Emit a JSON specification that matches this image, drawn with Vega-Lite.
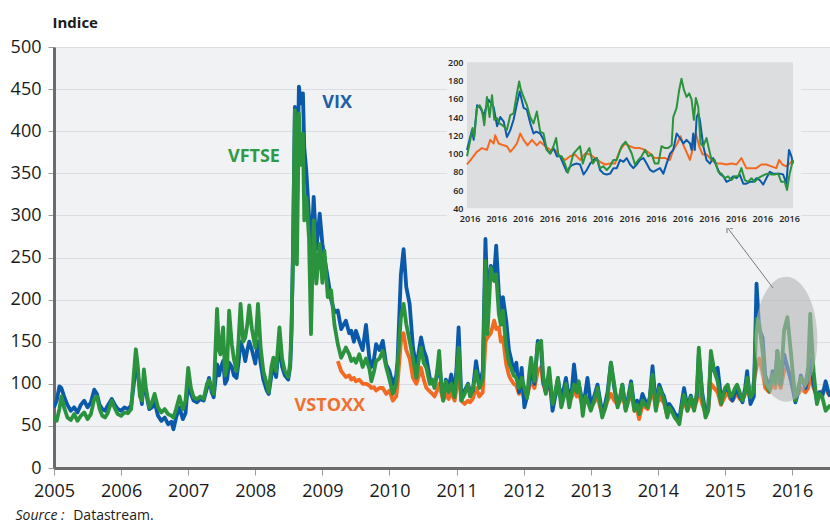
{
  "$schema": "https://vega.github.io/schema/vega-lite/v6.json",
  "width": 776,
  "height": 421,
  "autosize": {"type": "none"},
  "padding": {"left": 54, "top": 47, "right": 0, "bottom": 54},
  "background": "white",
  "view": {"fill": "#f1f2f4", "stroke": null},
  "config": {"font": "Open Sans", "axis": {"labelFont": "Open Sans", "titleFont": "Open Sans"}},
  "datasets": {
    "one": [{}],
    "main": [
      {"x":2005.00,"a":72,"c":62},{"x":2005.04,"a":80,"c":56},{"x":2005.08,"a":97,"c":70},{"x":2005.11,"a":95,"c":85},
      {"x":2005.15,"a":85,"c":72},{"x":2005.20,"a":75,"c":60},{"x":2005.25,"a":68,"c":57},{"x":2005.30,"a":72,"c":64},
      {"x":2005.35,"a":66,"c":56},{"x":2005.40,"a":75,"c":62},{"x":2005.45,"a":80,"c":66},{"x":2005.50,"a":72,"c":58},
      {"x":2005.55,"a":78,"c":64},{"x":2005.60,"a":93,"c":82},{"x":2005.64,"a":88,"c":85},{"x":2005.68,"a":75,"c":70},
      {"x":2005.72,"a":70,"c":62},{"x":2005.76,"a":68,"c":60},{"x":2005.80,"a":74,"c":65},{"x":2005.86,"a":82,"c":80},
      {"x":2005.90,"a":76,"c":72},{"x":2005.95,"a":70,"c":64},{"x":2006.00,"a":68,"c":62},{"x":2006.05,"a":72,"c":66},
      {"x":2006.10,"a":70,"c":65},{"x":2006.15,"a":74,"c":70},{"x":2006.19,"a":100,"c":112},{"x":2006.22,"a":131,"c":141},
      {"x":2006.25,"a":110,"c":120},{"x":2006.28,"a":92,"c":85},{"x":2006.31,"a":76,"c":80},{"x":2006.34,"a":107,"c":117},
      {"x":2006.37,"a":90,"c":95},{"x":2006.42,"a":70,"c":72},{"x":2006.46,"a":72,"c":78},{"x":2006.50,"a":78,"c":88},
      {"x":2006.55,"a":62,"c":72},{"x":2006.60,"a":56,"c":66},{"x":2006.65,"a":60,"c":70},{"x":2006.70,"a":52,"c":64},
      {"x":2006.75,"a":55,"c":62},{"x":2006.78,"a":46,"c":60},{"x":2006.82,"a":60,"c":70},{"x":2006.87,"a":72,"c":85},
      {"x":2006.92,"a":58,"c":70},{"x":2006.96,"a":65,"c":80},{"x":2007.00,"a":104,"c":119},{"x":2007.04,"a":88,"c":95},
      {"x":2007.08,"a":80,"c":84},{"x":2007.13,"a":78,"c":82},{"x":2007.18,"a":82,"c":85},{"x":2007.23,"a":80,"c":82},
      {"x":2007.28,"a":95,"c":100},{"x":2007.31,"a":107,"c":104},{"x":2007.35,"a":90,"c":95},{"x":2007.38,"a":84,"c":88},
      {"x":2007.43,"a":123,"c":189},{"x":2007.46,"a":110,"c":140},{"x":2007.48,"a":118,"c":135},{"x":2007.52,"a":127,"c":167},
      {"x":2007.55,"a":100,"c":110},{"x":2007.58,"a":105,"c":120},{"x":2007.61,"a":125,"c":187},{"x":2007.65,"a":120,"c":147},
      {"x":2007.68,"a":110,"c":130},{"x":2007.72,"a":107,"c":115},{"x":2007.75,"a":125,"c":150},{"x":2007.78,"a":150,"c":195},
      {"x":2007.82,"a":140,"c":150},{"x":2007.85,"a":127,"c":155},{"x":2007.88,"a":140,"c":170},{"x":2007.91,"a":150,"c":193},
      {"x":2007.95,"a":140,"c":165},{"x":2008.00,"a":124,"c":143},{"x":2008.04,"a":150,"c":195},{"x":2008.08,"a":124,"c":143},
      {"x":2008.12,"a":105,"c":115},{"x":2008.17,"a":92,"c":100},{"x":2008.20,"a":88,"c":90},{"x":2008.24,"a":110,"c":120},
      {"x":2008.27,"a":120,"c":131},{"x":2008.31,"a":108,"c":115},{"x":2008.36,"a":150,"c":167},{"x":2008.40,"a":120,"c":130},
      {"x":2008.44,"a":110,"c":115},{"x":2008.49,"a":105,"c":108},{"x":2008.52,"a":120,"c":125},{"x":2008.54,"a":160,"c":170},
      {"x":2008.56,"a":250,"c":242},{"x":2008.59,"a":429,"c":425},{"x":2008.62,"a":300,"c":242},{"x":2008.65,"a":453,"c":421},
      {"x":2008.68,"a":433,"c":360},{"x":2008.71,"a":445,"c":397},{"x":2008.73,"a":380,"c":294},{"x":2008.76,"a":353,"c":322},
      {"x":2008.80,"a":300,"c":274},{"x":2008.83,"a":250,"c":159},{"x":2008.87,"a":322,"c":294},{"x":2008.91,"a":260,"c":219},
      {"x":2008.96,"a":302,"c":266},{"x":2009.00,"a":266,"c":220},{"x":2009.03,"a":250,"c":258},{"x":2009.08,"a":226,"c":203},
      {"x":2009.13,"a":200,"c":211},{"x":2009.18,"a":185,"c":170},
      {"x":2009.23,"a":187,"c":147,"b":127},{"x":2009.28,"a":165,"c":131,"b":115},{"x":2009.35,"a":175,"c":143,"b":108},
      {"x":2009.40,"a":160,"c":135,"b":110},{"x":2009.43,"a":163,"c":127,"b":105},{"x":2009.47,"a":150,"c":130,"b":107},
      {"x":2009.50,"a":163,"c":125,"b":103},{"x":2009.55,"a":151,"c":135,"b":105},{"x":2009.60,"a":140,"c":120,"b":100},
      {"x":2009.65,"a":170,"c":130,"b":100},{"x":2009.70,"a":130,"c":118,"b":98},{"x":2009.73,"a":120,"c":103,"b":95},
      {"x":2009.77,"a":130,"c":115,"b":96},{"x":2009.80,"a":147,"c":127,"b":92},{"x":2009.85,"a":140,"c":130,"b":95},
      {"x":2009.90,"a":151,"c":139,"b":95},{"x":2009.95,"a":123,"c":120,"b":88},{"x":2010.00,"a":115,"c":105,"b":92},
      {"x":2010.05,"a":99,"c":88,"b":80},{"x":2010.10,"a":110,"c":100,"b":85},{"x":2010.12,"a":127,"c":120,"b":100},
      {"x":2010.17,"a":230,"c":179,"b":150},{"x":2010.21,"a":260,"c":195,"b":160},{"x":2010.25,"a":215,"c":171,"b":140},
      {"x":2010.30,"a":195,"c":151,"b":130},{"x":2010.35,"a":143,"c":130,"b":107},{"x":2010.40,"a":120,"c":107,"b":100},
      {"x":2010.44,"a":140,"c":130,"b":110},{"x":2010.47,"a":155,"c":143,"b":119},{"x":2010.51,"a":140,"c":125,"b":105},
      {"x":2010.55,"a":131,"c":119,"b":95},{"x":2010.60,"a":107,"c":100,"b":91},{"x":2010.64,"a":100,"c":105,"b":88},
      {"x":2010.67,"a":98,"c":95,"b":85},{"x":2010.71,"a":110,"c":115,"b":92},{"x":2010.74,"a":130,"c":139,"b":100},
      {"x":2010.77,"a":100,"c":100,"b":90},{"x":2010.80,"a":85,"c":80,"b":80},{"x":2010.84,"a":105,"c":103,"b":88},
      {"x":2010.88,"a":95,"c":90,"b":82},{"x":2010.92,"a":111,"c":100,"b":90},{"x":2010.97,"a":90,"c":84,"b":80},
      {"x":2011.00,"a":120,"c":110,"b":95},{"x":2011.03,"a":167,"c":143,"b":115},{"x":2011.07,"a":85,"c":80,"b":80},
      {"x":2011.12,"a":92,"c":88,"b":76},{"x":2011.17,"a":100,"c":99,"b":80},{"x":2011.20,"a":90,"c":85,"b":78},
      {"x":2011.24,"a":91,"c":92,"b":82},{"x":2011.29,"a":127,"c":115,"b":95},{"x":2011.34,"a":100,"c":95,"b":85},
      {"x":2011.39,"a":115,"c":105,"b":90},{"x":2011.43,"a":272,"c":246,"b":150},{"x":2011.46,"a":200,"c":159,"b":155},
      {"x":2011.51,"a":240,"c":238,"b":160},{"x":2011.56,"a":230,"c":222,"b":175},{"x":2011.59,"a":264,"c":230,"b":165},
      {"x":2011.63,"a":207,"c":183,"b":167},{"x":2011.66,"a":180,"c":170,"b":150},{"x":2011.69,"a":203,"c":187,"b":155},
      {"x":2011.74,"a":175,"c":143,"b":123},{"x":2011.78,"a":140,"c":125,"b":110},{"x":2011.81,"a":130,"c":119,"b":105},
      {"x":2011.85,"a":115,"c":110,"b":100},{"x":2011.89,"a":125,"c":107,"b":98},{"x":2011.93,"a":90,"c":95,"b":88},
      {"x":2011.97,"a":119,"c":107,"b":95},{"x":2012.01,"a":72,"c":95,"b":80},{"x":2012.05,"a":85,"c":83,"b":85},
      {"x":2012.08,"a":100,"c":110,"b":95},{"x":2012.11,"a":119,"c":131,"b":105},{"x":2012.16,"a":100,"c":103,"b":95},
      {"x":2012.21,"a":151,"c":147,"b":115},{"x":2012.26,"a":140,"c":151,"b":120},{"x":2012.29,"a":103,"c":110,"b":100},
      {"x":2012.33,"a":90,"c":88,"b":90},{"x":2012.38,"a":110,"c":119,"b":100},{"x":2012.43,"a":68,"c":76,"b":80},
      {"x":2012.47,"a":85,"c":90,"b":85},{"x":2012.51,"a":107,"c":107,"b":95},{"x":2012.56,"a":80,"c":72,"b":91},
      {"x":2012.60,"a":95,"c":85,"b":88},{"x":2012.63,"a":107,"c":100,"b":90},{"x":2012.68,"a":80,"c":72,"b":80},
      {"x":2012.72,"a":95,"c":90,"b":85},{"x":2012.75,"a":123,"c":99,"b":95},{"x":2012.79,"a":95,"c":90,"b":85},
      {"x":2012.82,"a":100,"c":103,"b":90},{"x":2012.86,"a":85,"c":80,"b":78},{"x":2012.88,"a":70,"c":62,"b":70},
      {"x":2012.92,"a":90,"c":85,"b":82},{"x":2012.95,"a":107,"c":80,"b":85},{"x":2013.00,"a":75,"c":68,"b":72},
      {"x":2013.05,"a":85,"c":80,"b":78},{"x":2013.10,"a":99,"c":95,"b":85},{"x":2013.14,"a":80,"c":75,"b":72},
      {"x":2013.17,"a":65,"c":60,"b":65},{"x":2013.21,"a":75,"c":70,"b":70},{"x":2013.25,"a":90,"c":84,"b":80},
      {"x":2013.30,"a":125,"c":125,"b":88},{"x":2013.35,"a":95,"c":99,"b":80},{"x":2013.40,"a":75,"c":72,"b":75},
      {"x":2013.44,"a":85,"c":85,"b":80},{"x":2013.47,"a":99,"c":99,"b":88},{"x":2013.52,"a":70,"c":68,"b":70},
      {"x":2013.56,"a":85,"c":80,"b":80},{"x":2013.60,"a":103,"c":100,"b":90},{"x":2013.65,"a":72,"c":68,"b":68},
      {"x":2013.69,"a":80,"c":75,"b":70},{"x":2013.72,"a":70,"c":64,"b":58},{"x":2013.77,"a":88,"c":80,"b":75},
      {"x":2013.81,"a":80,"c":75,"b":72},{"x":2013.85,"a":75,"c":72,"b":70},{"x":2013.88,"a":84,"c":84,"b":80},
      {"x":2013.92,"a":121,"c":111,"b":95},{"x":2013.97,"a":75,"c":68,"b":70},{"x":2014.02,"a":99,"c":95,"b":85},
      {"x":2014.06,"a":90,"c":88,"b":80},{"x":2014.09,"a":85,"c":80,"b":78},{"x":2014.14,"a":70,"c":60,"b":62},
      {"x":2014.17,"a":76,"c":72,"b":72},{"x":2014.22,"a":70,"c":65,"b":68},{"x":2014.25,"a":65,"c":60,"b":63},
      {"x":2014.29,"a":62,"c":56,"b":60},{"x":2014.32,"a":58,"c":52,"b":58},{"x":2014.36,"a":80,"c":75,"b":72},
      {"x":2014.39,"a":95,"c":87,"b":80},{"x":2014.44,"a":72,"c":68,"b":68},{"x":2014.49,"a":86,"c":84,"b":78},
      {"x":2014.54,"a":72,"c":68,"b":70},{"x":2014.58,"a":85,"c":90,"b":80},{"x":2014.61,"a":135,"c":143,"b":95},
      {"x":2014.66,"a":90,"c":84,"b":76},{"x":2014.71,"a":65,"c":60,"b":65},{"x":2014.75,"a":70,"c":68,"b":70},
      {"x":2014.79,"a":130,"c":139,"b":100},{"x":2014.84,"a":115,"c":115,"b":95},{"x":2014.89,"a":119,"c":103,"b":90},
      {"x":2014.94,"a":84,"c":76,"b":75},{"x":2015.00,"a":92,"c":95,"b":85},{"x":2015.04,"a":95,"c":99,"b":90},
      {"x":2015.08,"a":85,"c":85,"b":82},{"x":2015.11,"a":80,"c":87,"b":80},{"x":2015.15,"a":90,"c":95,"b":85},
      {"x":2015.18,"a":92,"c":99,"b":88},{"x":2015.22,"a":85,"c":90,"b":82},{"x":2015.26,"a":78,"c":80,"b":80},
      {"x":2015.30,"a":95,"c":90,"b":88},{"x":2015.33,"a":115,"c":107,"b":95},{"x":2015.38,"a":76,"c":84,"b":80},
      {"x":2015.43,"a":85,"c":91,"b":103},{"x":2015.47,"a":219,"c":177,"b":120},{"x":2015.51,"a":165,"c":171,"b":130},
      {"x":2015.56,"a":155,"c":139,"b":115},{"x":2015.60,"a":110,"c":103,"b":95},{"x":2015.66,"a":95,"c":91,"b":90},
      {"x":2015.71,"a":115,"c":111,"b":100},{"x":2015.75,"a":105,"c":100,"b":95},{"x":2015.78,"a":139,"c":139,"b":110},
      {"x":2015.83,"a":100,"c":99,"b":95},{"x":2015.88,"a":135,"c":163,"b":115},{"x":2015.93,"a":120,"c":179,"b":120},
      {"x":2015.98,"a":105,"c":139,"b":105},{"x":2016.05,"a":78,"c":80,"b":85},{"x":2016.09,"a":90,"c":95,"b":88},
      {"x":2016.13,"a":110,"c":107,"b":95},{"x":2016.20,"a":95,"c":99,"b":90},{"x":2016.24,"a":110,"c":120,"b":95},
      {"x":2016.27,"a":130,"c":183,"b":110},{"x":2016.32,"a":100,"c":115,"b":95},{"x":2016.37,"a":80,"c":76,"b":87},
      {"x":2016.41,"a":90,"c":88,"b":90},{"x":2016.45,"a":85,"c":84,"b":91},{"x":2016.50,"a":103,"c":68,"b":95},
      {"x":2016.54,"a":90,"c":72,"b":88},{"x":2016.57,"a":85,"c":75,"b":85}
    ],
    "iv": [
      {"t":-1,"v":104},{"t":0.9,"v":126},{"t":1.5,"v":115},{"t":2.8,"v":153},{"t":4,"v":150},{"t":5.3,"v":142},{"t":7.1,"v":159},
      {"t":9,"v":151},{"t":10.3,"v":130},{"t":11.5,"v":140},{"t":12.8,"v":135},{"t":14,"v":118},{"t":15.3,"v":126},{"t":16.5,"v":137},
      {"t":17.8,"v":155},{"t":18.8,"v":168},{"t":20.3,"v":150},{"t":21.5,"v":148},{"t":22.8,"v":133},{"t":24,"v":122},{"t":25,"v":124},
      {"t":26.5,"v":122},{"t":27.8,"v":115},{"t":29,"v":104},{"t":30.3,"v":100},{"t":31.5,"v":106},{"t":32.8,"v":97},{"t":34,"v":97},
      {"t":35.3,"v":88},{"t":36.5,"v":80},{"t":37.8,"v":86},{"t":39,"v":88},{"t":40.3,"v":89},{"t":41.5,"v":88},{"t":42.8,"v":77},
      {"t":44,"v":82},{"t":45.3,"v":89},{"t":46.5,"v":93},{"t":47.8,"v":95},{"t":49,"v":82},{"t":50.3,"v":78},{"t":51.5,"v":77},
      {"t":52.8,"v":78},{"t":54,"v":84},{"t":55.3,"v":84},{"t":56.5,"v":93},{"t":57.8,"v":91},{"t":59,"v":95},{"t":60.3,"v":88},
      {"t":61.5,"v":84},{"t":62.8,"v":88},{"t":64,"v":93},{"t":65.3,"v":95},{"t":66.5,"v":89},{"t":67.8,"v":82},{"t":69,"v":80},
      {"t":70.3,"v":82},{"t":71.5,"v":84},{"t":72.8,"v":78},{"t":74,"v":89},{"t":75.3,"v":100},{"t":76.5,"v":104},{"t":77.8,"v":122},
      {"t":79,"v":117},{"t":80.3,"v":111},{"t":81.5,"v":115},{"t":82.8,"v":111},{"t":83.4,"v":104},{"t":84,"v":122},{"t":84.6,"v":104},
      {"t":85.3,"v":140},{"t":85.9,"v":144},{"t":86.5,"v":137},{"t":87.8,"v":108},{"t":89,"v":93},{"t":90.3,"v":89},{"t":91.5,"v":95},
      {"t":92.8,"v":86},{"t":94,"v":78},{"t":95.3,"v":75},{"t":96.5,"v":69},{"t":97.8,"v":71},{"t":99,"v":75},{"t":100.3,"v":73},
      {"t":101.5,"v":77},{"t":102.8,"v":67},{"t":104,"v":67},{"t":105.3,"v":69},{"t":106.5,"v":69},{"t":107.8,"v":73},{"t":109,"v":71},
      {"t":110.3,"v":66},{"t":111.5,"v":73},{"t":112.8,"v":80},{"t":114,"v":78},{"t":115.3,"v":78},{"t":116.5,"v":78},{"t":117.8,"v":77},
      {"t":119,"v":67},{"t":120,"v":104},{"t":120.9,"v":97},{"t":121.5,"v":89}
    ],
    "ig": [
      {"t":-1,"v":97},{"t":0.25,"v":115},{"t":1.1,"v":128},{"t":1.75,"v":118},{"t":2.75,"v":150},{"t":3.75,"v":153},{"t":4.6,"v":148},
      {"t":5.5,"v":131},{"t":6.5,"v":162},{"t":7.5,"v":140},{"t":8.4,"v":164},{"t":9.25,"v":137},{"t":10.25,"v":139},{"t":11.25,"v":133},
      {"t":12.75,"v":130},{"t":14,"v":126},{"t":15.25,"v":142},{"t":16.5,"v":144},{"t":17.75,"v":166},{"t":18.6,"v":179},{"t":19.25,"v":170},
      {"t":20.25,"v":162},{"t":21.5,"v":153},{"t":22.75,"v":140},{"t":24,"v":133},{"t":25.25,"v":146},{"t":26.5,"v":124},{"t":27.75,"v":122},
      {"t":29,"v":104},{"t":30.25,"v":100},{"t":31.5,"v":108},{"t":32.5,"v":117},{"t":33.4,"v":97},{"t":34.6,"v":97},{"t":35.9,"v":88},
      {"t":36.9,"v":79},{"t":37.75,"v":86},{"t":39,"v":100},{"t":40.25,"v":104},{"t":41.5,"v":108},{"t":42.5,"v":89},{"t":43.75,"v":100},
      {"t":45,"v":106},{"t":46.25,"v":89},{"t":47.75,"v":95},{"t":49,"v":84},{"t":50.25,"v":86},{"t":51.5,"v":82},{"t":52.75,"v":86},
      {"t":54,"v":93},{"t":55.25,"v":93},{"t":57.1,"v":108},{"t":58.6,"v":113},{"t":59.6,"v":108},{"t":60.9,"v":100},{"t":62.1,"v":88},
      {"t":63.4,"v":93},{"t":64.6,"v":97},{"t":65.9,"v":104},{"t":67.1,"v":97},{"t":68.4,"v":99},{"t":69.6,"v":89},{"t":70.9,"v":89},
      {"t":72.1,"v":108},{"t":73.4,"v":106},{"t":74.6,"v":106},{"t":75.9,"v":109},{"t":76.5,"v":140},{"t":77.75,"v":150},{"t":78.75,"v":170},
      {"t":79.6,"v":182},{"t":80.5,"v":170},{"t":81.5,"v":162},{"t":82.5,"v":166},{"t":83.4,"v":159},{"t":84.25,"v":137},{"t":85,"v":161},
      {"t":85.9,"v":151},{"t":86.75,"v":111},{"t":87.75,"v":108},{"t":89,"v":117},{"t":90,"v":104},{"t":90.9,"v":93},{"t":92.1,"v":93},
      {"t":93.4,"v":80},{"t":94.6,"v":78},{"t":95.9,"v":73},{"t":97.1,"v":75},{"t":98.4,"v":71},{"t":99.6,"v":75},{"t":100.9,"v":75},
      {"t":102.1,"v":84},{"t":103.4,"v":71},{"t":104.6,"v":69},{"t":105.9,"v":73},{"t":107.1,"v":69},{"t":108.4,"v":73},{"t":109.6,"v":75},
      {"t":110.9,"v":77},{"t":112.1,"v":78},{"t":113.4,"v":77},{"t":114.6,"v":77},{"t":115.9,"v":78},{"t":117.1,"v":69},{"t":118.4,"v":69},
      {"t":119.25,"v":60},{"t":120.25,"v":78},{"t":121.5,"v":93}
    ],
    "io": [
      {"t":-1,"v":88},{"t":0.9,"v":95},{"t":2.75,"v":102},{"t":4.6,"v":106},{"t":6.5,"v":104},{"t":7.75,"v":115},{"t":9,"v":111},
      {"t":9.6,"v":120},{"t":10.9,"v":111},{"t":12.75,"v":109},{"t":14,"v":108},{"t":15.25,"v":102},{"t":16.5,"v":106},{"t":17.75,"v":111},
      {"t":19,"v":122},{"t":20.25,"v":115},{"t":21.75,"v":109},{"t":23.4,"v":115},{"t":25.25,"v":109},{"t":26.5,"v":113},{"t":28.4,"v":108},
      {"t":30.25,"v":104},{"t":32.1,"v":104},{"t":34,"v":97},{"t":35.9,"v":93},{"t":37.75,"v":97},{"t":39.6,"v":99},{"t":41.5,"v":93},
      {"t":43.4,"v":100},{"t":45.25,"v":99},{"t":47.1,"v":95},{"t":49,"v":91},{"t":50.9,"v":88},{"t":52.75,"v":89},{"t":54.6,"v":89},
      {"t":56.5,"v":104},{"t":58.4,"v":111},{"t":60.25,"v":108},{"t":62.1,"v":106},{"t":64,"v":106},{"t":65.9,"v":104},{"t":67.75,"v":100},
      {"t":69.6,"v":95},{"t":71.5,"v":95},{"t":73.4,"v":95},{"t":75.25,"v":93},{"t":76.5,"v":104},{"t":78,"v":111},{"t":79.25,"v":119},
      {"t":80.5,"v":108},{"t":81.75,"v":100},{"t":82.75,"v":93},{"t":83.75,"v":104},{"t":85,"v":122},{"t":86.25,"v":108},{"t":87.5,"v":99},
      {"t":89,"v":99},{"t":90.9,"v":93},{"t":92.75,"v":89},{"t":94.6,"v":89},{"t":96.5,"v":88},{"t":98.4,"v":89},{"t":100.25,"v":88},
      {"t":102.1,"v":95},{"t":104,"v":84},{"t":105.9,"v":84},{"t":107.75,"v":84},{"t":109.6,"v":88},{"t":111.5,"v":88},{"t":113.4,"v":86},
      {"t":115.25,"v":84},{"t":116.25,"v":93},{"t":117.5,"v":88},{"t":119,"v":86},{"t":120.25,"v":89},{"t":121.5,"v":93}
    ]
  },
  "resolve": {"scale": {"x": "independent", "y": "independent"}, "axis": {"x": "independent", "y": "independent"}},
  "layer": [
    {
      "layer": [
        {
          "data": {"name": "main"},
          "transform": [{"filter": "isValid(datum.b)"}],
          "mark": {"type": "line", "color": "#f26a22", "strokeWidth": 3.8, "strokeJoin": "round", "clip": true},
          "encoding": {
            "x": {"field": "x", "type": "quantitative",
              "scale": {"domain": [2005, 2016.565], "nice": false, "zero": false},
              "axis": {"orient": "bottom", "title": "Datastream.", "titleX": 18.7, "titleY": 51, "titleAlign": "left", "titleAnchor": null,
                "titleBaseline": "alphabetic", "titleFontSize": 14, "titleFontWeight": "normal", "titleColor": "#1a1a1a",
                "values": [2005,2006,2007,2008,2009,2010,2011,2012,2013,2014,2015,2016], "format": "d",
                "labelFontSize": 18, "labelColor": "#1a1a1a", "labelPadding": 7, "labelFlush": false, "labelOverlap": false,
                "tickSize": 7, "tickColor": "#9a9a9a", "domainColor": "#6b6b6b", "domainWidth": 3, "grid": false}},
            "y": {"field": "b", "type": "quantitative",
              "scale": {"domain": [0, 500], "nice": false, "zero": false},
              "axis": {"orient": "left", "title": "Indice", "titleAngle": 0, "titleAlign": "left", "titleAnchor": null, "titleBaseline": "alphabetic",
                "titleX": -2, "titleY": -20, "titleFontSize": 15, "titleFontWeight": "bold", "titleColor": "#1a1a1a",
                "values": [0,50,100,150,200,250,300,350,400,450,500],
                "labelFontSize": 18, "labelColor": "#1a1a1a", "labelPadding": 7, "labelOverlap": false,
                "tickSize": 6, "tickColor": "#9a9a9a", "domainColor": "#6b6b6b", "domainWidth": 3,
                "grid": true, "gridColor": "#dcdde1", "gridWidth": 1}}
          }
        },
        {
          "data": {"name": "main"},
          "mark": {"type": "line", "color": "#0b5aaa", "strokeWidth": 3.8, "strokeJoin": "round", "clip": true},
          "encoding": {"x": {"field": "x", "type": "quantitative"}, "y": {"field": "a", "type": "quantitative"}}
        },
        {
          "data": {"name": "main"},
          "mark": {"type": "line", "color": "#2b933d", "strokeWidth": 3.8, "strokeJoin": "round", "clip": true},
          "encoding": {"x": {"field": "x", "type": "quantitative"}, "y": {"field": "c", "type": "quantitative"}}
        },
        {
          "data": {"name": "one"},
          "mark": {"type": "text", "text": "VIX", "color": "#1f5ea8", "fontSize": 18, "fontWeight": "bold", "align": "center", "baseline": "middle"},
          "encoding": {"x": {"datum": 2009.22, "type": "quantitative"}, "y": {"datum": 434, "type": "quantitative"}}
        },
        {
          "data": {"name": "one"},
          "mark": {"type": "text", "text": "VFTSE", "color": "#2e9a47", "fontSize": 18, "fontWeight": "bold", "align": "center", "baseline": "middle"},
          "encoding": {"x": {"datum": 2007.98, "type": "quantitative"}, "y": {"datum": 369, "type": "quantitative"}}
        },
        {
          "data": {"name": "one"},
          "mark": {"type": "text", "text": "VSTOXX", "color": "#f07030", "fontSize": 18, "fontWeight": "bold", "align": "center", "baseline": "middle"},
          "encoding": {"x": {"datum": 2009.11, "type": "quantitative"}, "y": {"datum": 74, "type": "quantitative"}}
        },
        {
          "data": {"name": "one"},
          "mark": {"type": "point", "shape": "M 0 -1 A 0.5 1 0 1 1 0 1 A 0.5 1 0 1 1 0 -1 Z", "size": 15625, "filled": true,
            "fill": "#b4b4b4", "opacity": 0.6, "strokeWidth": 0},
          "encoding": {"x": {"datum": 2015.91, "type": "quantitative"}, "y": {"datum": 153, "type": "quantitative"}}
        },
        {
          "data": {"name": "one"},
          "mark": {"type": "rule", "color": "#7a7a7a", "strokeWidth": 1},
          "encoding": {"x": {"datum": 2015.715, "type": "quantitative"}, "y": {"datum": 213.8, "type": "quantitative"},
            "x2": {"datum": 2015.03}, "y2": {"datum": 286.2}}
        },
        {
          "data": {"name": "one"},
          "mark": {"type": "point", "shape": "M -0.6 0.8 L 0 0 L 0.6 0.8", "size": 144, "filled": false, "stroke": "#7a7a7a",
            "strokeWidth": 1, "opacity": 1, "angle": 323},
          "encoding": {"x": {"datum": 2015.03, "type": "quantitative"}, "y": {"datum": 286.2, "type": "quantitative"}}
        }
      ]
    },
    {
      "layer": [
        {
          "data": {"name": "one"},
          "mark": {"type": "rect", "color": "#f1f2f4"},
          "encoding": {
            "x": {"datum": -8.5, "type": "quantitative",
              "scale": {"domain": [-1, 121.5], "range": [413, 739], "nice": false, "zero": false},
              "axis": {"orient": "bottom", "offset": -259.7, "zindex": 1, "title": "Source :", "titleX": -39, "titleY": 310.7,
                "titleAlign": "left", "titleAnchor": null, "titleBaseline": "alphabetic", "titleFontSize": 14, "titleFontWeight": "normal",
                "titleFontStyle": "italic", "titleColor": "#1a1a1a",
                "values": [0,10,20,30,40,50,60,70,80,90,100,110,120], "labelExpr": "'2016'",
                "labelFontSize": 9, "labelFontWeight": 600, "labelColor": "#222222", "labelPadding": 6, "labelFlush": false, "labelOverlap": false,
                "ticks": false, "domain": false, "grid": false}},
            "x2": {"datum": 124.5},
            "y": {"datum": 18.4, "type": "quantitative",
              "scale": {"domain": [40, 200], "range": [161.3, 15.3], "nice": false, "zero": false},
              "axis": {"orient": "left", "offset": -413, "zindex": 1, "title": null,
                "values": [40,60,80,100,120,140,160,180,200],
                "labelFontSize": 9, "labelFontWeight": 600, "labelColor": "#222222", "labelPadding": 4, "labelOverlap": false,
                "ticks": false, "domain": false, "grid": false}},
            "y2": {"datum": 208}
          }
        },
        {
          "data": {"name": "one"},
          "mark": {"type": "rect", "color": "#dcdddf"},
          "encoding": {
            "x": {"datum": -1, "type": "quantitative"}, "x2": {"datum": 121.5},
            "y": {"datum": 40, "type": "quantitative"}, "y2": {"datum": 200}
          }
        },
        {
          "data": {"name": "io"},
          "mark": {"type": "line", "color": "#f26a22", "strokeWidth": 2, "strokeJoin": "round"},
          "encoding": {"x": {"field": "t", "type": "quantitative"}, "y": {"field": "v", "type": "quantitative"}}
        },
        {
          "data": {"name": "iv"},
          "mark": {"type": "line", "color": "#0b5aaa", "strokeWidth": 2, "strokeJoin": "round"},
          "encoding": {"x": {"field": "t", "type": "quantitative"}, "y": {"field": "v", "type": "quantitative"}}
        },
        {
          "data": {"name": "ig"},
          "mark": {"type": "line", "color": "#2b933d", "strokeWidth": 2, "strokeJoin": "round"},
          "encoding": {"x": {"field": "t", "type": "quantitative"}, "y": {"field": "v", "type": "quantitative"}}
        }
      ]
    }
  ]
}
